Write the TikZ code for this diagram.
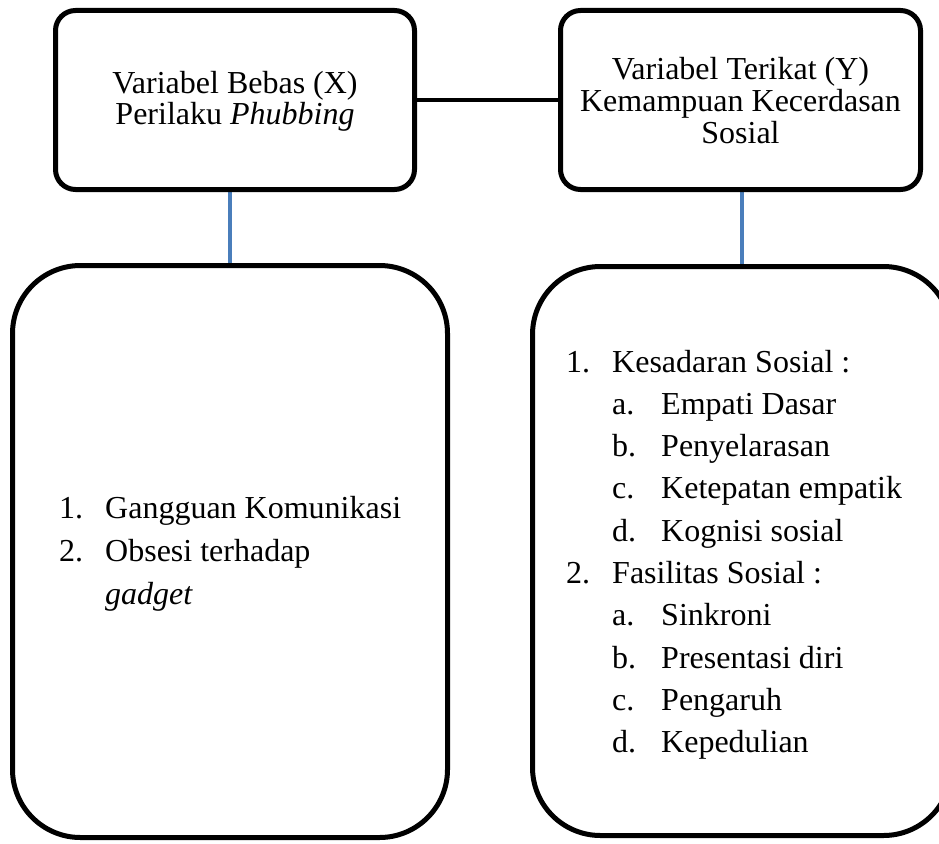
\documentclass[tikz,border=0pt]{standalone}
\usepackage{fontspec}
\setmainfont{Liberation Serif}
\usetikzlibrary{backgrounds}
\definecolor{linkblue}{RGB}{74,126,187}
\begin{document}
\begin{tikzpicture}[x=1pt,y=-1pt,
  topbox/.style={draw=black,line width=5pt,rounded corners=20pt,minimum height=179pt,inner sep=0pt},
  bigbox/.style={draw=black,line width=5pt,rounded corners=68pt,inner sep=0pt},
  txt/.style={font=\fontsize{32}{32}\selectfont,inner sep=0pt,anchor=base},
  itm/.style={font=\fontsize{32}{32}\selectfont,inner sep=0pt,anchor=base west},
  blueline/.style={draw=linkblue,line width=4pt},
  blackline/.style={draw=black,line width=4pt}]
\useasboundingbox (0,0) rectangle (939,843);
% boxes
\node[topbox,minimum width=359pt] (X) at (235,100) {};
\node[topbox,minimum width=360pt] (Y) at (740.5,100) {};
\node[bigbox,minimum width=435pt,minimum height=572pt] (L) at (230,551.5) {};
\node[bigbox,minimum width=419pt,minimum height=569pt] (R) at (742,551) {};
% top texts
\node[txt] (x1) at (235,93) {Variabel Bebas (X)};
\node[txt] (x2) at (235,124) {Perilaku \textit{Phubbing}};
\node[txt] (y1) at (740.5,79) {Variabel Terikat (Y)};
\node[txt] (y2) at (740.5,111) {Kemampuan Kecerdasan};
\node[txt] (y3) at (740.5,143) {Sosial};
% left list
\node[itm] (ln1) at (59,518) {1.};
\node[itm] (lt1) at (105,518) {Gangguan Komunikasi};
\node[itm] (ln2) at (59,561) {2.};
\node[itm] (lt2) at (105,561) {Obsesi terhadap};
\node[itm] (lt3) at (105,604) {\textit{gadget}};
% right list
\node[itm] (rn1) at (566,372) {1.};
\node[itm] (rt1) at (612,372) {Kesadaran Sosial :};
\node[itm] (ra1) at (612,414.3) {a.};
\node[itm] (rs1) at (661,414.3) {Empati Dasar};
\node[itm] (rb1) at (612,456.6) {b.};
\node[itm] (rs2) at (661,456.6) {Penyelarasan};
\node[itm] (rc1) at (612,498.9) {c.};
\node[itm] (rs3) at (661,498.9) {Ketepatan empatik};
\node[itm] (rd1) at (612,541.2) {d.};
\node[itm] (rs4) at (661,541.2) {Kognisi sosial};
\node[itm] (rn2) at (566,583.5) {2.};
\node[itm] (rt2) at (612,583.5) {Fasilitas Sosial :};
\node[itm] (ra2) at (612,625.8) {a.};
\node[itm] (rs5) at (661,625.8) {Sinkroni};
\node[itm] (rb2) at (612,668.1) {b.};
\node[itm] (rs6) at (661,668.1) {Presentasi diri};
\node[itm] (rc2) at (612,710.4) {c.};
\node[itm] (rs7) at (661,710.4) {Pengaruh};
\node[itm] (rd2) at (612,752.7) {d.};
\node[itm] (rs8) at (661,752.7) {Kepedulian};
% connectors
\begin{scope}[on background layer]
\draw[blackline] (X.east) -- (Y.west);
\draw[blueline] (L.north) -- (L.north |- X.south);
\draw[blueline] (R.north) -- (R.north |- Y.south);
\end{scope}
\end{tikzpicture}
\end{document}
